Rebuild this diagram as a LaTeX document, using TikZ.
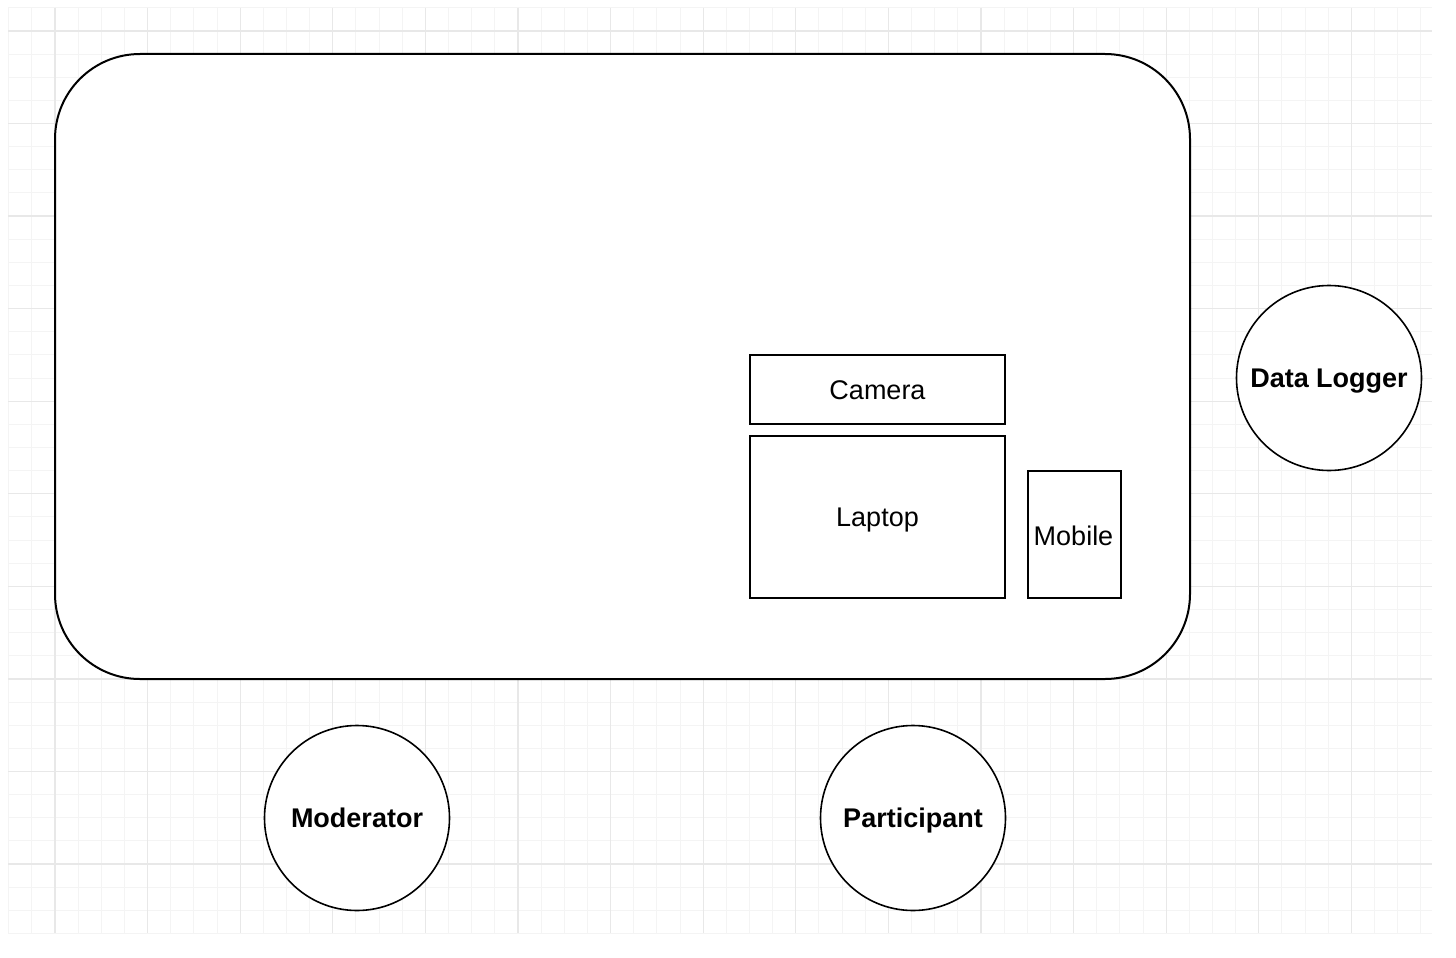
\documentclass[tikz,border=0pt]{standalone}
\usepackage{fontspec}
\setmainfont{Liberation Sans}
\definecolor{gridmajor}{HTML}{E8E8E8}
\definecolor{gridminor}{HTML}{F4F4F4}
\begin{document}
\begin{tikzpicture}[x=1pt,y=-1pt,
  minorline/.style={draw=gridminor,line width=1pt},
  majorline/.style={draw=gridmajor,line width=1.3pt},
  shapebox/.style={draw=black,line width=2pt,inner sep=0pt,outer sep=0pt,fill=white,
    font=\fontsize{27}{32}\selectfont,text=black,text height=19.4pt,text depth=0pt},
  person/.style={shapebox,circle,line width=1.6pt,minimum size=185pt,font=\fontsize{27}{32}\selectfont\bfseries}
]
\useasboundingbox[fill=white] (0,0) rectangle (1456,958);
% grid
\foreach \i in {-2,...,59} {\draw[minorline] ({55+23.15*\i},8) -- ({55+23.15*\i},933);}
\foreach \j in {-1,...,39} {\draw[minorline] (8,{31+23.14*\j}) -- (1432,{31+23.14*\j});}
\foreach \i in {0,...,14} {\draw[majorline] ({55+92.6*\i},8) -- ({55+92.6*\i},933);}
\foreach \j in {0,...,9} {\draw[majorline] (8,{31+92.56*\j}) -- (1432,{31+92.56*\j});}
% room
\node[shapebox,rounded corners=85pt,minimum width=1135pt,minimum height=625pt] (room) at (622.5,366.5) {};
% devices
\node[shapebox,minimum width=255pt,minimum height=69pt] (camera) at (877.5,389.5) {Camera};
\node[shapebox,minimum width=255pt,minimum height=162pt] (laptop) at (877.5,517) {Laptop};
\node[shapebox,minimum width=93pt,minimum height=127pt] (mobile) at (1074.5,534.5) {};
\node[font=\fontsize{27}{32}\selectfont,inner sep=0pt,text height=19.4pt,text depth=0pt] (mobiletext) at (1073.5,536) {Mobile};
% people
\node[person] (logger) at (1329,378) {Data Logger};
\node[person] (moderator) at (357,818) {Moderator};
\node[person] (participant) at (913,818) {Participant};
\end{tikzpicture}
\end{document}
